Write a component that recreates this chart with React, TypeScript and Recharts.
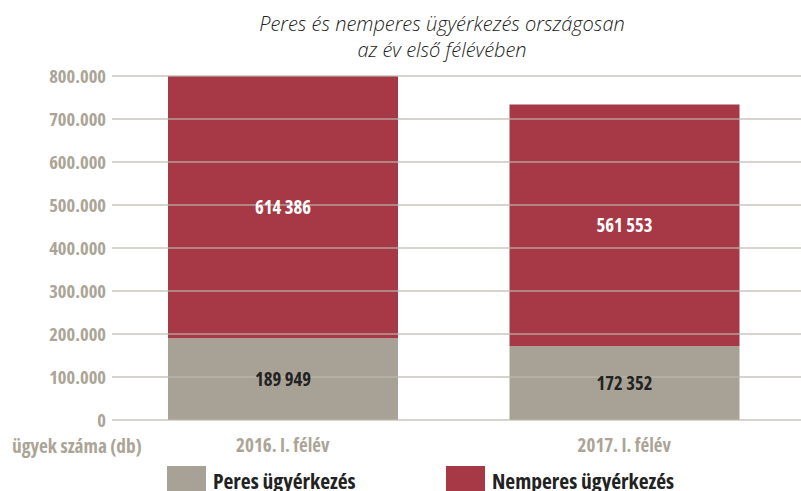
import { BarChart, Bar, XAxis, YAxis, ReferenceLine, LabelList, Legend } from 'recharts';

const categories = ['2016. I. félév', '2017. I. félév'];
const peres = [189949, 172352];
const nemperes = [614386, 561553];
const yTicks = [0, 100000, 200000, 300000, 400000, 500000, 600000, 700000, 800000];
const seriesNames = ['Peres ügyérkezés', 'Nemperes ügyérkezés'];

const TITLE_1 = 'Peres és nemperes ügyérkezés országosan';
const TITLE_2 = 'az év első félévében';
const AXIS_NOTE = 'ügyek száma (db)';

const RED = '#a63945';
const GRAY = '#a8a296';
const TICK = '#aba597';
const FONT = '"Open Sans", sans-serif';
const cond = { fontStretch: 'condensed' } as any;

const data = categories.map((c, i) => ({ name: c, peres: peres[i], nemperes: nemperes[i] }));

const fmtTick = (v: number) => (v === 0 ? '0' : v.toLocaleString('de-DE'));
const fmtVal = (v: number) => v.toLocaleString('de-DE').replace(/\./g, ' ');

function LegendContent() {
  const left = [167, 446];
  const colors = [GRAY, RED];
  return (
    <div style={{ position: 'relative', height: 30 }}>
      {seriesNames.map((name, i) => (
        <div
          key={name}
          style={{ position: 'absolute', left: left[i], top: 0, display: 'flex', alignItems: 'flex-start' }}
        >
          <div style={{ width: 39, height: 30, background: colors[i] }} />
          <span
            style={{
              marginLeft: 7,
              fontFamily: FONT,
              fontWeight: 700,
              fontSize: 21.5,
              lineHeight: '28px',
              marginTop: 1,
              color: '#222',
              ...cond,
            }}
          >
            {name}
          </span>
        </div>
      ))}
    </div>
  );
}

export default function App() {
  return (
    <div style={{ position: 'absolute', left: 0, top: 0, width: 801, height: 491, background: '#fff', overflow: 'hidden' }}>
      <div
        style={{
          position: 'absolute',
          left: 0,
          width: 884,
          top: 11,
          textAlign: 'center',
          fontFamily: FONT,
          fontStyle: 'italic',
          fontWeight: 300,
          fontSize: 20,
          lineHeight: '26px',
          color: '#222',
        }}
      >
        <div>{TITLE_1}</div>
        <div>{TITLE_2}</div>
      </div>
      <BarChart
        width={801}
        height={491}
        data={data}
        margin={{ top: 76, right: 0, left: 0, bottom: 1 }}
        style={{ position: 'absolute', left: 0, top: 0 }}
      >
        <XAxis
          dataKey="name"
          axisLine={false}
          tickLine={false}
          tickSize={0}
          tickMargin={19}
          height={40}
          padding={{ left: 0, right: 6 }}
          tick={{ fill: TICK, fontSize: 19, fontWeight: 700, fontFamily: FONT, style: cond }}
          label={({ viewBox }: any) => (
            <text
              x={12}
              y={viewBox.y + 26}
              dy="0.35em"
              fill={TICK}
              fontSize={19.3}
              fontWeight={700}
              fontFamily={FONT}
              style={cond}
            >
              {AXIS_NOTE}
            </text>
          )}
        />
        <YAxis
          width={112}
          domain={[0, 800000]}
          ticks={yTicks}
          allowDataOverflow
          axisLine={false}
          tickLine={false}
          tickSize={0}
          tickMargin={6}
          tickFormatter={fmtTick}
          tick={{ fill: TICK, fontSize: 18.5, fontWeight: 700, fontFamily: FONT, style: cond }}
        />
        <Bar dataKey="peres" name={seriesNames[0]} stackId="a" fill={GRAY} barSize={230} isAnimationActive={false}>
          <LabelList
            dataKey="peres"
            position="center"
            formatter={(v: any) => fmtVal(Number(v))}
            fill="#222"
            fontSize={18.7}
            fontWeight={700}
            fontFamily={FONT}
            style={cond}
          />
        </Bar>
        <Bar dataKey="nemperes" name={seriesNames[1]} stackId="a" fill={RED} barSize={230} isAnimationActive={false}>
          <LabelList
            dataKey="nemperes"
            position="center"
            formatter={(v: any) => fmtVal(Number(v))}
            fill="#fff"
            fontSize={18.7}
            fontWeight={700}
            fontFamily={FONT}
            style={cond}
          />
        </Bar>
        {yTicks.map((t) => (
          <ReferenceLine key={t} y={t} stroke="#bab7ac" strokeOpacity={0.6} strokeWidth={2} />
        ))}
        <Legend
          verticalAlign="bottom"
          content={<LegendContent />}
          wrapperStyle={{ position: 'absolute', left: 0, top: 466, width: 801, height: 30 }}
        />
      </BarChart>
    </div>
  );
}
